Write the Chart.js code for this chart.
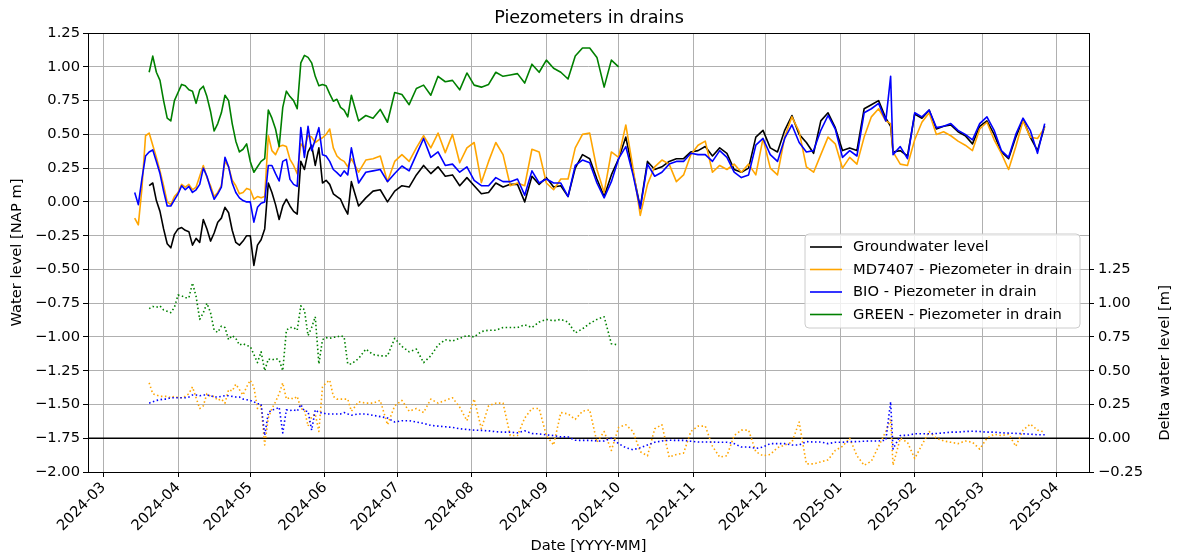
<!DOCTYPE html>
<html><head><meta charset="utf-8">
<script src="https://cdn.jsdelivr.net/npm/chart.js@4.4.1/dist/chart.umd.min.js"></script>
<style>html,body{margin:0;padding:0;background:#fff;}#wrap{width:1178px;height:556px;}</style>
</head><body><div id="wrap"><canvas id="c" width="1178" height="556"></canvas></div>
<script>
const dates = [
'2024-03-14','2024-03-15T12:00','2024-03-17','2024-03-18T12:00','2024-03-20','2024-03-21T12:00','2024-03-23','2024-03-24T12:00','2024-03-26','2024-03-27T12:00','2024-03-29','2024-03-30T12:00',
'2024-04-01','2024-04-02T12:00','2024-04-04','2024-04-05T12:00','2024-04-07','2024-04-08T12:00','2024-04-10','2024-04-11T12:00','2024-04-13','2024-04-14T12:00','2024-04-16','2024-04-17T12:00','2024-04-19','2024-04-20T12:00','2024-04-22','2024-04-23T12:00','2024-04-25','2024-04-26T12:00','2024-04-28','2024-04-29T12:00',
'2024-05-01','2024-05-02T12:00','2024-05-04','2024-05-05T12:00','2024-05-07','2024-05-08T12:00','2024-05-10','2024-05-11T12:00','2024-05-13','2024-05-14T12:00','2024-05-16','2024-05-17T12:00','2024-05-19','2024-05-20T12:00','2024-05-22','2024-05-23T12:00','2024-05-25','2024-05-26T12:00','2024-05-28','2024-05-29T12:00','2024-05-31','2024-06-01T12:00',
'2024-06-03','2024-06-04T12:00','2024-06-06','2024-06-07T12:00','2024-06-09','2024-06-10T12:00','2024-06-12',
'2024-06-15','2024-06-18','2024-06-21','2024-06-24','2024-06-27','2024-06-30',
'2024-07-03','2024-07-06','2024-07-09','2024-07-12','2024-07-15','2024-07-18','2024-07-21','2024-07-24','2024-07-27','2024-07-30',
'2024-08-02','2024-08-05','2024-08-08','2024-08-11','2024-08-14','2024-08-17','2024-08-20','2024-08-23','2024-08-26','2024-08-29',
'2024-09-01','2024-09-04','2024-09-07','2024-09-10','2024-09-13','2024-09-16','2024-09-19','2024-09-22','2024-09-25','2024-09-28',
'2024-10-01','2024-10-04','2024-10-07','2024-10-10','2024-10-13','2024-10-16','2024-10-19','2024-10-22','2024-10-25','2024-10-28','2024-10-31',
'2024-11-03','2024-11-06','2024-11-09','2024-11-12','2024-11-15','2024-11-18','2024-11-21','2024-11-24','2024-11-27','2024-11-30',
'2024-12-03','2024-12-06','2024-12-09','2024-12-12','2024-12-15','2024-12-18','2024-12-21','2024-12-24','2024-12-27','2024-12-30',
'2025-01-02','2025-01-05','2025-01-08','2025-01-11','2025-01-14','2025-01-17','2025-01-20','2025-01-22','2025-01-23','2025-01-26','2025-01-29',
'2025-02-01','2025-02-04','2025-02-07','2025-02-10','2025-02-13','2025-02-16','2025-02-19','2025-02-22','2025-02-25','2025-02-28',
'2025-03-03','2025-03-06','2025-03-09','2025-03-12','2025-03-15','2025-03-18','2025-03-21','2025-03-24','2025-03-27'];

const groundwater = [
null,null,null,null,0.12,0.14,0.01,-0.07,-0.20,-0.31,-0.34,-0.24,
-0.20,-0.19,-0.21,-0.22,-0.32,-0.27,-0.30,-0.13,-0.20,-0.29,-0.23,-0.15,-0.12,-0.04,-0.08,-0.21,-0.30,-0.32,-0.29,-0.25,
-0.25,-0.47,-0.32,-0.28,-0.20,0.14,0.07,-0.02,-0.13,-0.03,0.02,-0.03,-0.07,-0.09,0.30,0.24,0.37,0.42,0.27,0.40,0.14,0.16,
0.13,0.06,0.04,0.02,-0.04,-0.09,0.15,
-0.03,0.03,0.08,0.09,0.00,0.08,
0.12,0.11,0.20,0.27,0.21,0.26,0.19,0.20,0.12,0.18,
0.12,0.06,0.07,0.14,0.11,0.13,0.13,0.00,0.19,0.13,
0.18,0.11,0.12,0.04,0.25,0.35,0.32,0.17,0.04,0.20,
0.32,0.48,0.22,-0.04,0.30,0.24,0.26,0.30,0.32,0.32,0.37,
0.38,0.41,0.34,0.40,0.36,0.24,0.22,0.25,0.48,0.53,
0.40,0.37,0.53,0.64,0.50,0.44,0.36,0.60,0.66,0.55,
0.38,0.40,0.38,0.69,0.72,0.75,0.62,0.56,0.37,0.38,0.34,
0.65,0.62,0.68,0.54,0.56,0.57,0.52,0.49,0.43,0.56,
0.60,0.50,0.37,0.32,0.48,0.61,0.48,0.38,0.56];

const md7407 = [
-0.12,-0.17,0.10,0.49,0.51,0.42,0.33,0.23,0.12,0.00,-0.02,0.04,
0.07,0.13,0.11,0.13,0.09,0.11,0.19,0.27,0.18,0.12,0.04,0.07,0.12,0.30,0.26,0.16,0.12,0.06,0.07,0.10,
0.09,0.02,0.04,0.03,0.04,0.49,0.38,0.35,0.41,0.42,0.41,0.315,0.27,0.21,0.43,0.40,0.49,0.48,0.44,0.46,0.475,0.50,
0.54,0.40,0.34,0.315,0.30,0.26,0.32,
0.22,0.31,0.32,0.34,0.15,0.30,
0.35,0.30,0.40,0.49,0.40,0.51,0.365,0.50,0.29,0.40,
0.44,0.143,0.30,0.44,0.35,0.12,0.14,0.12,0.39,0.37,
0.14,0.09,0.17,0.17,0.40,0.50,0.51,0.24,0.07,0.37,
0.33,0.57,0.25,-0.10,0.13,0.26,0.31,0.28,0.15,0.20,0.35,
0.42,0.45,0.22,0.27,0.24,0.28,0.22,0.28,0.20,0.47,
0.25,0.20,0.48,0.63,0.52,0.26,0.22,0.35,0.48,0.43,
0.25,0.33,0.28,0.48,0.63,0.69,0.60,0.58,0.37,0.28,0.27,
0.46,0.59,0.66,0.50,0.52,0.49,0.45,0.42,0.38,0.54,
0.59,0.46,0.36,0.24,0.41,0.60,0.48,0.47,0.55];

const bio = [
0.07,-0.02,0.17,0.34,0.37,0.385,0.30,0.21,0.08,-0.03,-0.03,0.015,
0.06,0.12,0.09,0.115,0.07,0.09,0.13,0.25,0.19,0.10,0.02,0.06,0.11,0.33,0.26,0.14,0.07,0.03,0.01,0.00,
0.00,-0.15,-0.04,-0.01,0.00,0.27,0.27,0.21,0.155,0.30,0.315,0.167,0.13,0.115,0.55,0.33,0.56,0.38,0.46,0.55,0.35,0.34,
0.30,0.24,0.217,0.19,0.23,0.20,0.40,
0.14,0.22,0.23,0.24,0.15,0.21,
0.266,0.23,0.35,0.47,0.33,0.37,0.27,0.28,0.22,0.26,
0.16,0.12,0.12,0.18,0.15,0.15,0.17,0.05,0.23,0.14,
0.17,0.14,0.14,0.04,0.27,0.31,0.29,0.14,0.03,0.15,
0.32,0.41,0.20,-0.05,0.28,0.19,0.22,0.28,0.30,0.30,0.36,
0.35,0.35,0.30,0.38,0.33,0.22,0.18,0.20,0.42,0.47,
0.35,0.30,0.47,0.57,0.44,0.37,0.38,0.53,0.64,0.54,
0.33,0.38,0.34,0.66,0.69,0.73,0.60,0.93,0.35,0.41,0.32,
0.66,0.63,0.68,0.55,0.56,0.58,0.53,0.50,0.46,0.58,
0.63,0.53,0.38,0.33,0.50,0.62,0.53,0.36,0.58];

const green = [
null,null,null,null,0.96,1.08,0.96,0.90,0.75,0.62,0.60,0.75,
0.81,0.87,0.86,0.83,0.82,0.73,0.83,0.857,0.78,0.67,0.525,0.58,0.66,0.79,0.75,0.58,0.45,0.37,0.39,0.43,
0.30,0.22,0.26,0.30,0.32,0.68,0.62,0.54,0.41,0.70,0.82,0.78,0.75,0.69,1.03,1.085,1.07,1.03,0.93,0.86,0.87,0.86,
0.80,0.746,0.76,0.70,0.68,0.63,0.79,
0.60,0.64,0.62,0.685,0.59,0.81,
0.795,0.72,0.84,0.865,0.79,0.93,0.89,0.90,0.83,0.955,
0.865,0.85,0.87,0.96,0.93,0.94,0.95,0.88,1.02,0.96,
1.05,0.99,0.96,0.91,1.08,1.14,1.14,1.07,0.85,1.05,
1.00,null,null,null,null,null,null,null,null,null,null,
null,null,null,null,null,null,null,null,null,null,
null,null,null,null,null,null,null,null,null,null,
null,null,null,null,null,null,null,null,null,null,null,
null,null,null,null,null,null,null,null,null,null,
null,null,null,null,null,null,null,null,null];

const deltaMd7407 = [
null,null,null,null,0.41,0.33,0.32,0.31,0.31,0.31,0.30,0.31,
0.30,0.30,0.31,0.33,0.38,0.30,0.22,0.24,0.33,0.31,0.31,0.28,0.29,0.26,0.36,0.35,0.40,0.36,0.32,0.38,
0.43,0.38,0.22,0.24,-0.05,0.15,0.22,0.27,0.33,0.41,0.29,0.30,0.29,0.31,0.22,0.21,0.09,0.16,0.18,0.05,0.38,0.41,
0.43,0.31,0.29,0.29,0.29,0.29,0.20,
0.27,0.26,0.26,0.28,0.10,0.24,
0.28,0.20,0.22,0.19,0.29,0.26,0.28,0.30,0.23,0.13,
0.29,0.07,0.24,0.26,0.26,0.02,0.02,0.15,0.22,0.22,
0.02,-0.05,0.19,0.18,0.14,0.20,0.21,-0.03,0.05,-0.09,
0.08,0.10,0.05,-0.10,-0.13,0.07,0.10,-0.14,-0.12,-0.11,0.05,
0.09,0.09,-0.06,-0.14,-0.13,0.02,0.06,0.06,-0.10,-0.13,
-0.12,-0.07,-0.05,-0.03,0.12,-0.19,-0.19,-0.175,-0.16,-0.09,
-0.06,0.00,-0.13,-0.20,-0.17,-0.06,0.05,0.14,-0.20,0.00,-0.03,
-0.15,-0.05,0.05,0.00,-0.02,-0.03,-0.04,-0.02,-0.03,-0.08,
0.00,0.03,0.02,0.03,-0.06,0.06,0.105,0.06,0.045];

const deltaBio = [
null,null,null,null,0.26,0.27,0.28,0.285,0.29,0.29,0.30,0.30,
0.30,0.30,0.30,0.305,0.32,0.32,0.315,0.32,0.32,0.315,0.305,0.305,0.31,0.315,0.315,0.31,0.305,0.305,0.29,0.285,
0.28,0.27,0.255,0.255,0.02,0.19,0.21,0.215,0.23,0.04,0.21,0.205,0.21,0.20,0.25,0.20,0.20,0.06,0.21,0.19,0.19,0.18,
0.18,0.18,0.18,0.18,0.19,0.18,0.17,
0.18,0.18,0.17,0.16,0.15,0.12,
0.13,0.13,0.12,0.11,0.095,0.09,0.085,0.08,0.07,0.065,
0.06,0.058,0.055,0.048,0.045,0.045,0.04,0.055,0.035,0.032,
0.025,0.02,0.01,0.01,-0.015,-0.016,-0.016,-0.02,-0.02,0.00,
-0.04,-0.07,-0.085,-0.07,-0.05,-0.03,-0.02,-0.015,-0.016,-0.016,-0.022,
-0.028,-0.028,-0.028,-0.03,-0.03,-0.04,-0.065,-0.065,-0.075,-0.065,
-0.04,-0.04,-0.04,-0.05,-0.05,-0.025,-0.028,-0.028,-0.04,-0.03,
-0.03,-0.025,-0.025,-0.022,-0.02,-0.02,-0.015,0.27,-0.08,0.02,0.022,
0.033,0.033,0.033,0.035,0.04,0.045,0.045,0.05,0.052,0.05,
0.045,0.045,0.04,0.038,0.036,0.033,0.03,0.026,0.026];

const deltaGreen = [
null,null,null,null,0.96,0.976,0.97,0.98,0.95,0.94,0.93,0.97,
1.06,1.055,1.04,1.04,1.15,1.05,0.88,0.93,1.00,0.93,0.80,0.784,0.83,0.82,0.73,0.76,0.74,0.69,0.70,0.686,
0.68,0.62,0.56,0.64,0.50,0.587,0.58,0.59,0.58,0.50,0.80,0.82,0.82,0.80,0.98,0.95,0.76,0.82,0.90,0.55,0.73,0.745,
0.74,0.747,0.75,0.76,0.75,0.55,0.55,
0.59,0.66,0.62,0.61,0.61,0.74,
0.68,0.64,0.66,0.56,0.61,0.69,0.73,0.72,0.74,0.76,
0.75,0.79,0.80,0.80,0.82,0.82,0.82,0.84,0.82,0.86,
0.88,0.87,0.88,0.86,0.78,0.81,0.85,0.88,0.90,0.70,
0.69,null,null,null,null,null,null,null,null,null,null,
null,null,null,null,null,null,null,null,null,null,
null,null,null,null,null,null,null,null,null,null,
null,null,null,null,null,null,null,null,null,null,null,
null,null,null,null,null,null,null,null,null,null,
null,null,null,null,null,null,null,null,null];

const monthTicks = ['2024-03','2024-04','2024-05','2024-06','2024-07','2024-08','2024-09','2024-10','2024-11','2024-12','2025-01','2025-02','2025-03','2025-04'];
const leftTicks = [-2.00,-1.75,-1.50,-1.25,-1.00,-0.75,-0.50,-0.25,0.00,0.25,0.50,0.75,1.00,1.25];
const rightTicks = [-0.25,0.00,0.25,0.50,0.75,1.00,1.25];
const xRange = ['2024-02-23T14:24','2025-04-14T09:36'];
const leftRange = [-2.0, 1.25];
const rightRange = [-0.25, 3.0];

const FONT = 'DejaVu Sans';
const FS = 14.7;
Chart.defaults.font.family = FONT;
Chart.defaults.color = '#000';

const ts = s => Date.parse(s.length === 7 ? s + '-01T00:00:00Z' : (s.length === 10 ? s + 'T00:00:00Z' : s + ':00Z'));
const xs = dates.map(ts);
const pts = vals => xs.map((x, i) => ({x: x, y: vals[i]}));
const fmt = v => (v < -1e-9 ? '\u2212' : '') + Math.abs(v).toFixed(2);

function line(label, vals, color, axis, order, dotted, legend) {
  return {label, data: pts(vals), borderColor: color, backgroundColor: color, yAxisID: axis, order,
    borderWidth: 1.6, pointRadius: 0, fill: false, tension: 0, spanGaps: false,
    borderDash: dotted ? [1.5, 2.5] : [], borderJoinStyle: 'round', borderCapStyle: 'butt', inLegend: legend};
}

const framePlugin = {
  id: 'frame',
  beforeDatasetsDraw(chart) {
    const {ctx, chartArea: a} = chart;
    const y0 = chart.scales.y2.getPixelForValue(0);
    ctx.save();
    ctx.strokeStyle = '#000'; ctx.lineWidth = 1.4;
    ctx.beginPath(); ctx.moveTo(a.left, y0); ctx.lineTo(a.right, y0); ctx.stroke();
    ctx.restore();
  },
  afterDatasetsDraw(chart) {
    const {ctx, chartArea: a} = chart;
    ctx.save();
    ctx.strokeStyle = '#000'; ctx.lineWidth = 1;
    ctx.strokeRect(Math.round(a.left) + 0.5, Math.round(a.top) + 0.5, Math.round(a.right - a.left), Math.round(a.bottom - a.top));
    ctx.restore();
  },
  afterDraw(chart) {
    const {ctx} = chart;
    const items = chart.data.datasets.filter(d => d.inLegend);
    const bx = 805, by = 234, bw = 275, bh = 94, r = 4;
    ctx.save();
    ctx.beginPath();
    ctx.moveTo(bx + r, by); ctx.lineTo(bx + bw - r, by); ctx.quadraticCurveTo(bx + bw, by, bx + bw, by + r);
    ctx.lineTo(bx + bw, by + bh - r); ctx.quadraticCurveTo(bx + bw, by + bh, bx + bw - r, by + bh);
    ctx.lineTo(bx + r, by + bh); ctx.quadraticCurveTo(bx, by + bh, bx, by + bh - r);
    ctx.lineTo(bx, by + r); ctx.quadraticCurveTo(bx, by, bx + r, by);
    ctx.closePath();
    ctx.fillStyle = 'rgba(255,255,255,0.8)'; ctx.fill();
    ctx.strokeStyle = '#cccccc'; ctx.lineWidth = 1; ctx.stroke();
    ctx.font = FS + 'px "' + FONT + '"';
    ctx.textBaseline = 'middle'; ctx.textAlign = 'left';
    items.forEach((d, i) => {
      const yy = by + 13 + i * 22.5;
      ctx.strokeStyle = d.borderColor; ctx.lineWidth = 1.6;
      ctx.beginPath(); ctx.moveTo(bx + 5, yy); ctx.lineTo(bx + 37, yy); ctx.stroke();
      ctx.fillStyle = '#000';
      ctx.fillText(d.label, bx + 48, yy + 0.5);
    });
    ctx.translate(1165, 363);
    ctx.rotate(-Math.PI / 2);
    ctx.textAlign = 'center'; ctx.textBaseline = 'middle';
    ctx.fillStyle = '#000';
    ctx.fillText('Delta water level [m]', 0, 0);
    ctx.restore();
  }
};

new Chart(document.getElementById('c'), {
  type: 'line',
  data: {
    datasets: [
      line('Groundwater level', groundwater, '#000000', 'y', 7, false, true),
      line('MD7407 - Piezometer in drain', md7407, '#ffa500', 'y', 6, false, true),
      line('BIO - Piezometer in drain', bio, '#0000ff', 'y', 5, false, true),
      line('GREEN - Piezometer in drain', green, '#008000', 'y', 4, false, true),
      line('MD7407 delta', deltaMd7407, '#ffa500', 'y2', 3, true, false),
      line('BIO delta', deltaBio, '#0000ff', 'y2', 2, true, false),
      line('GREEN delta', deltaGreen, '#008000', 'y2', 1, true, false)
    ]
  },
  options: {
    responsive: false, animation: false, devicePixelRatio: 1,
    layout: {padding: 0},
    plugins: {
      legend: {display: false}, tooltip: {enabled: false},
      title: {display: true, text: 'Piezometers in drains', font: {size: 17.6, weight: 'normal', family: FONT}, color: '#000', padding: {top: 8, bottom: 4}}
    },
    scales: {
      x: {
        type: 'linear', position: 'bottom', min: ts(xRange[0]), max: ts(xRange[1]),
        afterBuildTicks: s => { s.ticks = monthTicks.map(m => ({value: ts(m)})); },
        ticks: {autoSkip: false, minRotation: 45, maxRotation: 45, font: {size: FS}, color: '#000', padding: 2,
          callback: v => { const d = new Date(v); return d.getUTCFullYear() + '-' + String(d.getUTCMonth() + 1).padStart(2, '0'); }},
        grid: {color: '#b0b0b0', lineWidth: 1, tickLength: 5, tickColor: '#000', drawTicks: true},
        border: {display: false},
        title: {display: true, text: 'Date [YYYY-MM]', font: {size: FS}, color: '#000', padding: {top: 0, bottom: 1}},
        afterFit: s => { s.height = 84; }
      },
      y: {
        type: 'linear', position: 'left', min: leftRange[0], max: leftRange[1],
        afterBuildTicks: s => { s.ticks = leftTicks.map(v => ({value: v})); },
        ticks: {font: {size: FS}, color: '#000', padding: 3, callback: v => fmt(v)},
        grid: {color: '#b0b0b0', lineWidth: 1, tickLength: 5, tickColor: '#000'},
        border: {display: false},
        title: {display: true, text: 'Water level [NAP m]', font: {size: FS}, color: '#000', padding: {top: 8, bottom: 0}},
        afterFit: s => { s.width = 88; }
      },
      y2: {
        type: 'linear', position: 'right', min: rightRange[0], max: rightRange[1],
        afterBuildTicks: s => { s.ticks = rightTicks.map(v => ({value: v})); },
        ticks: {font: {size: FS}, color: '#000', padding: 4, callback: v => fmt(v)},
        grid: {drawOnChartArea: false, tickLength: 5, tickColor: '#000', color: '#000'},
        border: {display: false},
        afterFit: s => { s.width = 89; }
      }
    }
  },
  plugins: [framePlugin]
});
</script></body></html>
